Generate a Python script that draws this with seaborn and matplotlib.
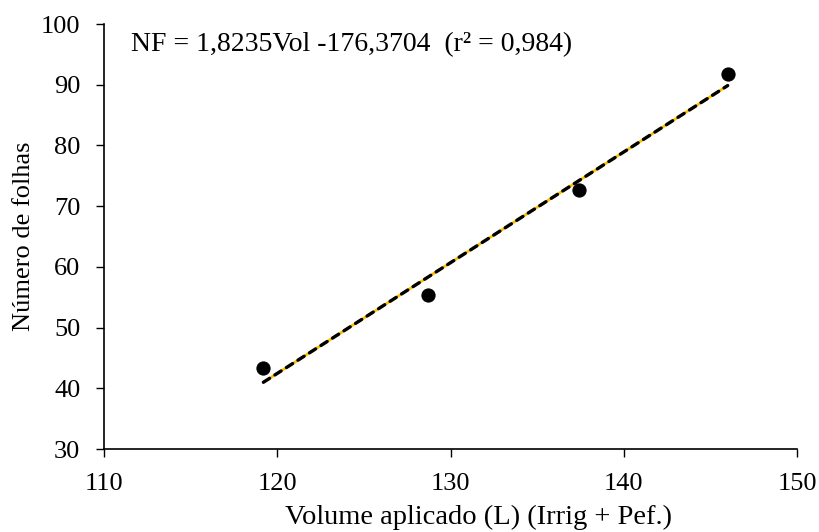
import matplotlib
matplotlib.use("Agg")
import matplotlib.pyplot as plt
import seaborn as sns
import numpy as np
import pandas as pd

volume = [119.2, 128.7, 137.4, 146.0]
folhas = [43.4, 55.3, 72.7, 91.8]
slope, intercept = 1.8235, -176.3704
equation = "NF = 1,8235Vol -176,3704  (r² = 0,984)"
x_ticks = [110, 120, 130, 140, 150]
y_ticks = [30, 40, 50, 60, 70, 80, 90, 100]

sns.set_theme(style="white")
plt.rcParams['font.family'] = ['Liberation Serif', 'DejaVu Serif']

fig = plt.figure(figsize=(8.2, 5.32), dpi=100)
ax = fig.add_axes([104/820, 1-449/532, 693/820, 425/532])

df = pd.DataFrame({"vol": volume, "nf": folhas})
fit = pd.DataFrame({"vol": [min(volume), max(volume)]})
fit["nf"] = slope * fit["vol"] + intercept

sns.lineplot(data=fit, x="vol", y="nf", ax=ax, color="#FFC000", lw=2.0, zorder=2)
sns.lineplot(data=fit, x="vol", y="nf", ax=ax, color="black", lw=2.4,
             linestyle=(0, (2.2, 1.9)), dash_capstyle="round", zorder=3)
sns.scatterplot(data=df, x="vol", y="nf", ax=ax, color="black", s=90,
                edgecolor="black", zorder=4)

ax.set_xlim(110, 150)
ax.set_ylim(30, 100)
ax.set_xticks(x_ticks)
ax.set_yticks(y_ticks)
ax.tick_params(direction="out", length=6, width=1, labelsize=19, colors="black",
               left=True, bottom=True)
ax.tick_params(axis="y", pad=11)
ax.tick_params(axis="x", pad=11)
for s in ["top", "right"]:
    ax.spines[s].set_visible(False)
for s in ["left", "bottom"]:
    ax.spines[s].set_color("black")
    ax.spines[s].set_linewidth(1.2)
ax.set_xlabel("Volume aplicado (L) (Irrig + Pef.)", fontsize=20.5, color="black")
ax.xaxis.label.set_va("baseline")
ax.xaxis.set_label_coords((479-104)/693, (449-524)/425)
ax.set_ylabel("Número de folhas", fontsize=19, color="black", labelpad=4.5)
ax.text(111.55, 96.6, equation, fontsize=20, va="center", ha="left", color="black")

fig.savefig("out.png", dpi=100)
